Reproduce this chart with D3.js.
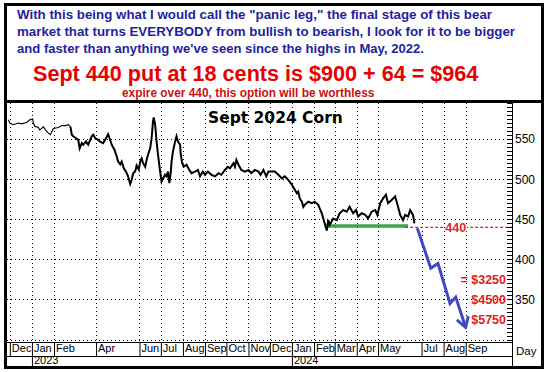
<!DOCTYPE html>
<html>
<head>
<meta charset="utf-8">
<script src="https://cdn.jsdelivr.net/npm/d3@7"></script>
<style>
  body { margin: 0; background: #fff; }
  svg { display: block; }
</style>
</head>
<body>
<svg id="chart" width="548" height="372"></svg>
<script>
// text in the header box
const headerLines = [
    "With this being what I would call the \"panic leg,\" the final stage of this bear",
    "market that turns EVERYBODY from bullish to bearish, I look for it to be bigger",
    "and faster than anything we've seen since the highs in May, 2022."
];
const headerWidths = [475, 498, 407];
const headline = "Sept 440 put at 18 cents is $900 + 64 = $964";
const subline = "expire over 440, this option will be worthless";
const chartTitle = "Sept 2024 Corn";

// Sept 2024 corn, closes in cents
const corn = [
    ["2022-11-29",574],["2022-12-01",570],["2022-12-06",568],["2022-12-13",570],["2022-12-18",569],
    ["2022-12-25",571],["2022-12-29",574],["2023-01-02",575],["2023-01-03",570],["2023-01-05",566],
    ["2023-01-10",564.5],["2023-01-12",561.5],["2023-01-15",563.5],["2023-01-17",565.5],["2023-01-20",561.5],
    ["2023-01-24",557.5],["2023-01-27",555.5],["2023-01-29",559.5],["2023-01-31",563],["2023-02-02",563.5],
    ["2023-02-07",564.5],["2023-02-12",567],["2023-02-16",566.5],["2023-02-21",568],["2023-02-24",565.5],
    ["2023-02-26",555.5],["2023-02-28",553.5],["2023-03-04",551],["2023-03-07",549],["2023-03-09",538.5],
    ["2023-03-12",545],["2023-03-14",543],["2023-03-18",547],["2023-03-21",543],["2023-03-26",553.5],
    ["2023-03-28",555.5],["2023-03-31",551],["2023-04-04",549],["2023-04-06",547],["2023-04-11",545],
    ["2023-04-15",551],["2023-04-18",556],["2023-04-20",551],["2023-04-23",543],["2023-04-27",536.5],
    ["2023-04-30",528.5],["2023-05-02",522],["2023-05-05",518.5],["2023-05-07",522],["2023-05-10",513.5],
    ["2023-05-13",509.5],["2023-05-16",503.5],["2023-05-19",494],["2023-05-21",499],["2023-05-23",507],
    ["2023-05-26",510],["2023-05-28",517],["2023-05-31",512],["2023-06-02",522],["2023-06-04",526],
    ["2023-06-06",520],["2023-06-09",515.5],["2023-06-11",524],["2023-06-13",530.5],["2023-06-16",538.5],
    ["2023-06-18",551],["2023-06-20",572],["2023-06-21",577],["2023-06-23",568],["2023-06-25",547],
    ["2023-06-27",530.5],["2023-06-30",509.5],["2023-07-02",497],["2023-07-04",501],["2023-07-07",505.5],
    ["2023-07-09",503.5],["2023-07-11",509.5],["2023-07-13",495],["2023-07-15",509.5],["2023-07-16",522],
    ["2023-07-18",534.5],["2023-07-21",547],["2023-07-23",553.5],["2023-07-25",547],["2023-07-28",543],
    ["2023-07-29",530.5],["2023-07-31",520],["2023-08-02",515.5],["2023-08-06",518],["2023-08-10",511.5],
    ["2023-08-13",507.5],["2023-08-18",509.5],["2023-08-22",511.5],["2023-08-25",503.5],["2023-08-29",509.5],
    ["2023-09-01",505.5],["2023-09-05",509.5],["2023-09-10",505.5],["2023-09-15",503.5],["2023-09-20",507.5],
    ["2023-09-24",505.5],["2023-09-29",511.5],["2023-10-03",515.5],["2023-10-06",513.5],["2023-10-11",520],
    ["2023-10-13",515.5],["2023-10-15",524],["2023-10-18",518],["2023-10-22",511.5],["2023-10-27",509.5],
    ["2023-11-01",511.5],["2023-11-05",507.5],["2023-11-10",511.5],["2023-11-15",509.5],["2023-11-18",505.5],
    ["2023-11-22",511.5],["2023-11-26",503.5],["2023-11-29",509.5],["2023-12-01",509.5],["2023-12-08",509.5],
    ["2023-12-13",505.5],["2023-12-18",501],["2023-12-22",503.5],["2023-12-27",499],["2024-01-01",493],
    ["2024-01-04",488.5],["2024-01-08",482.5],["2024-01-10",484.5],["2024-01-12",476],["2024-01-15",472],
    ["2024-01-17",465.5],["2024-01-19",468],["2024-01-24",472],["2024-01-29",470],["2024-02-02",472],
    ["2024-02-07",468],["2024-02-09",463.5],["2024-02-12",457.5],["2024-02-14",451],["2024-02-16",445],
    ["2024-02-19",436],["2024-02-21",449],["2024-02-23",443],["2024-02-28",451],["2024-03-04",449],
    ["2024-03-08",457.5],["2024-03-13",461.5],["2024-03-18",459.5],["2024-03-22",465.5],["2024-03-27",457.5],
    ["2024-03-31",461.5],["2024-04-03",453.5],["2024-04-08",457.5],["2024-04-13",455.5],["2024-04-17",451],
    ["2024-04-22",459.5],["2024-04-27",461.5],["2024-04-30",455.5],["2024-05-04",470],["2024-05-08",476],
    ["2024-05-12",480.5],["2024-05-15",470],["2024-05-20",474],["2024-05-25",478.5],["2024-05-29",465.5],
    ["2024-06-01",455.5],["2024-06-05",449],["2024-06-08",455.5],["2024-06-12",453.5],["2024-06-15",461.5],
    ["2024-06-19",455.5],["2024-06-21",445]
];
// thin, quiet trading before this date; heavier bars after it
const quietUntil = "2023-02-24";

// hand drawn forecast (blue arrow) and support line (green)
const projection = [
    ["2024-06-25",439],["2024-07-14",389],["2024-07-24",395],
    ["2024-08-10",345],["2024-08-18",353],["2024-09-01",315]
];
const support = [["2024-02-16",441.5],["2024-06-12",441.5]];
const strike = 440;
const strikeStart = "2024-06-08";
const strikeLabelDate = "2024-08-18";
const payoffs = [["= $3250",375],["$4500",350],["$5750",325]];

// axes
const priceTicks = [350, 400, 450, 500, 550];
const gridPrices = [300, 350, 400, 450, 500, 550];
const monthTicks = [
    "2022-12-01","2023-01-01","2023-02-01","2023-04-01","2023-06-01","2023-07-01","2023-08-01",
    "2023-09-01","2023-10-01","2023-11-01","2023-12-01","2024-01-01","2024-02-01","2024-03-01",
    "2024-04-01","2024-05-01","2024-07-01","2024-08-01","2024-09-01"
];
const yearTicks = ["2023-01-01","2024-01-01"];

const parse = d3.timeParse("%Y-%m-%d");
const svg = d3.select("#chart");
const sans = "'Liberation Sans', Arial, sans-serif";

// plot box
const pLeft = 7, pRight = 512, pTop = 103, pBottom = 342;

const x = d3.scaleTime()
    .domain([parse("2022-11-27"), parse("2024-11-05")])
    .range([pLeft, pRight]);
const y = d3.scaleLinear()
    .domain([297, 595])
    .range([pBottom, pTop]);

svg.append("rect").attr("width", 548).attr("height", 372).attr("fill", "#fff");

// ---- header ----
const header = svg.append("g").attr("font-family", sans)
    .attr("font-weight", "bold");

header.selectAll("text.blue")
    .data(headerLines)
    .enter()
    .append("text")
    .attr("class", "blue")
    .attr("x", 17)
    .attr("y", (d, i) => 19 + i * 17)
    .attr("font-size", 13.4)
    .attr("textLength", (d, i) => headerWidths[i])
    .attr("lengthAdjust", "spacingAndGlyphs")
    .attr("fill", "#1f1f9e")
    .text(d => d);

header.append("text")
    .attr("x", 33).attr("y", 81)
    .attr("font-size", 21.6)
    .attr("fill", "#e80000")
    .text(headline);

header.append("text")
    .attr("x", 122).attr("y", 97)
    .attr("font-size", 11.9)
    .attr("fill", "#cc1010")
    .text(subline);

// ---- grid ----
const grid = svg.append("g")
    .attr("stroke", "#000")
    .attr("stroke-dasharray", "1,3")
    .attr("shape-rendering", "crispEdges");

grid.selectAll("line.h")
    .data(gridPrices)
    .enter()
    .append("line")
    .attr("x1", pLeft).attr("x2", pRight)
    .attr("y1", d => Math.round(y(d)) + 0.5)
    .attr("y2", d => Math.round(y(d)) + 0.5);

grid.selectAll("line.v")
    .data(monthTicks)
    .enter()
    .append("line")
    .attr("y1", pTop).attr("y2", pBottom)
    .attr("x1", d => Math.round(x(parse(d))) + 0.5)
    .attr("x2", d => Math.round(x(parse(d))) + 0.5);

// ---- title ----
svg.append("text")
    .attr("x", 208).attr("y", 123)
    .attr("font-family", "'DejaVu Sans', Verdana, sans-serif")
    .attr("font-weight", "bold")
    .attr("font-size", 15.5)
    .text(chartTitle);

// ---- support and strike lines ----
svg.append("line")
    .attr("x1", x(parse(support[0][0]))).attr("x2", x(parse(support[1][0])))
    .attr("y1", y(support[0][1])).attr("y2", y(support[1][1]))
    .attr("stroke", "#3ba54a")
    .attr("stroke-width", 3.5);

svg.append("line")
    .attr("x1", x(parse(strikeStart))).attr("x2", pRight)
    .attr("y1", y(strike)).attr("y2", y(strike))
    .attr("stroke", "#d42a2a")
    .attr("stroke-width", 1.2)
    .attr("stroke-dasharray", "3,2");

svg.append("text")
    .attr("x", x(parse(strikeLabelDate)))
    .attr("y", y(strike) + 4.5)
    .attr("text-anchor", "middle")
    .attr("font-family", sans)
    .attr("font-weight", "bold")
    .attr("font-size", 12.5)
    .attr("fill", "#d42a2a")
    .attr("stroke", "#fff").attr("stroke-width", 2).attr("paint-order", "stroke")
    .text(strike);

// ---- price line ----
const line = d3.line()
    .x(d => x(parse(d[0])))
    .y(d => y(d[1]));

const split = corn.findIndex(d => d[0] === quietUntil);
svg.append("path")
    .datum(corn.slice(0, split + 1))
    .attr("d", line)
    .attr("fill", "none")
    .attr("stroke", "#000")
    .attr("stroke-width", 1.1);

svg.append("path")
    .datum(corn.slice(split))
    .attr("d", line)
    .attr("fill", "none")
    .attr("stroke", "#000")
    .attr("stroke-width", 2);

// ---- forecast arrow ----
svg.append("defs").append("marker")
    .attr("id", "head")
    .attr("viewBox", "-12 -8 14 16")
    .attr("markerWidth", 14).attr("markerHeight", 16)
    .attr("markerUnits", "userSpaceOnUse")
    .attr("orient", "auto")
    .append("path")
    .attr("d", "M-10,-6L0,0L-10,6")
    .attr("fill", "none")
    .attr("stroke", "#4048c4")
    .attr("stroke-width", 3);

svg.append("path")
    .datum(projection)
    .attr("d", line)
    .attr("fill", "none")
    .attr("stroke", "#4048c4")
    .attr("stroke-width", 3)
    .attr("stroke-linejoin", "miter")
    .attr("marker-end", "url(#head)");

svg.selectAll("text.pay")
    .data(payoffs)
    .enter()
    .append("text")
    .attr("class", "pay")
    .attr("x", 506)
    .attr("y", d => y(d[1]) + 4.5)
    .attr("text-anchor", "end")
    .attr("font-family", sans)
    .attr("font-weight", "bold")
    .attr("font-size", 12.5)
    .attr("fill", "#e0201c")
    .text(d => d[0]);

// ---- price axis (right) ----
svg.append("g")
    .attr("transform", `translate(${pRight},0)`)
    .call(d3.axisRight(y).tickValues(d3.range(300, 596, 5)).tickSize(-5).tickFormat(""))
    .call(g => g.select(".domain").remove())
    .selectAll("line").attr("shape-rendering", "crispEdges");

svg.append("g")
    .attr("transform", `translate(${pRight},0)`)
    .call(d3.axisRight(y).tickValues(priceTicks).tickSize(0).tickPadding(3))
    .call(g => g.select(".domain").remove())
    .selectAll("text")
    .attr("font-family", sans)
    .attr("font-size", 12)
    .attr("fill", "#000");

// ---- time axis (bottom) ----
const monthAxis = svg.append("g")
    .attr("transform", `translate(0,${pBottom})`)
    .call(d3.axisBottom(x).tickValues(monthTicks.map(parse)).tickSize(14).tickFormat(d3.timeFormat("%b")));
monthAxis.select(".domain").remove();
monthAxis.selectAll("line").attr("stroke", "#000");
monthAxis.selectAll("text")
    .attr("text-anchor", "start")
    .attr("x", 1.5)
    .attr("y", 2)
    .attr("dy", "0.71em")
    .attr("font-family", sans)
    .attr("font-size", 11)
    .attr("fill", "#000");

const yearAxis = svg.append("g")
    .attr("transform", `translate(0,${pBottom + 14})`)
    .call(d3.axisBottom(x).tickValues(yearTicks.map(parse)).tickSize(10).tickFormat(d3.timeFormat("%Y")));
yearAxis.select(".domain").remove();
yearAxis.selectAll("text")
    .attr("text-anchor", "start")
    .attr("x", 1.5)
    .attr("y", 0.5)
    .attr("dy", "0.71em")
    .attr("font-family", sans)
    .attr("font-size", 11)
    .attr("fill", "#000");

svg.append("text")
    .attr("x", 516).attr("y", 355)
    .attr("font-family", sans)
    .attr("font-size", 11.5)
    .text("Day");

// ---- frame ----
const frame = svg.append("g").attr("stroke", "#000").attr("fill", "none");
frame.append("line").attr("x1", pLeft).attr("x2", pRight).attr("y1", pBottom + 0.5).attr("y2", pBottom + 0.5);
frame.append("line").attr("x1", pLeft).attr("x2", pRight).attr("y1", pBottom + 14.5).attr("y2", pBottom + 14.5);
frame.append("line").attr("x1", pRight + 0.5).attr("x2", pRight + 0.5).attr("y1", pTop).attr("y2", 366);
frame.append("line").attr("x1", 4).attr("x2", 544).attr("y1", 101.5).attr("y2", 101.5).attr("stroke-width", 3);
frame.append("rect").attr("x", 5.5).attr("y", 4.5).attr("width", 537).attr("height", 363).attr("stroke-width", 3);
</script>
</body>
</html>
